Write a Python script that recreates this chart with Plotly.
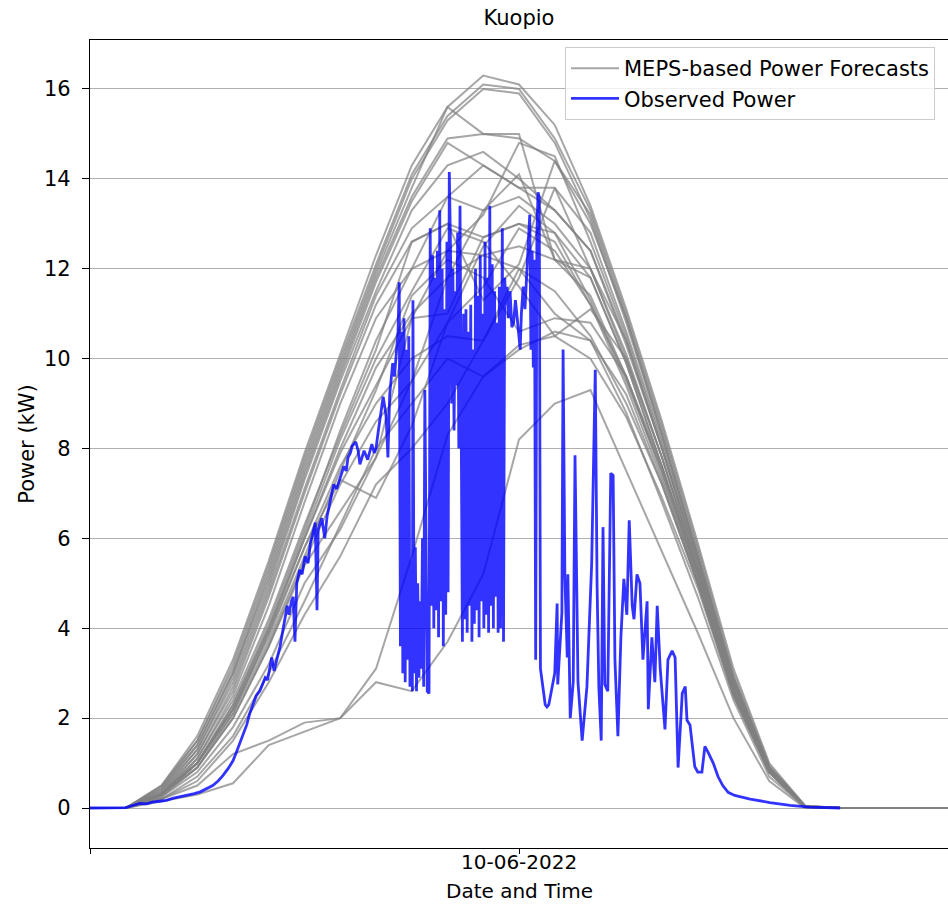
import plotly.graph_objects as go

# ---------------- data ----------------
hours = list(range(25))              # hourly forecast steps (0..24 h)
tick_hours = [0, 12]
tick_labels = ["", "10-06-2022"]
y_ticks = [0, 2, 4, 6, 8, 10, 12, 14, 16]

member_01 = [0, 0, 0.5, 1.6, 3.3, 5.5, 7.9, 10.1, 12.3, 14.3, 15.6, 16.3, 16.1, 15.2, 13.4, 11.1, 8.6, 5.9, 3.1, 1.0, 0.05, 0, 0, 0, 0]
member_02 = [0, 0, 0.5, 1.5, 3.2, 5.4, 7.8, 10.0, 12.1, 14.1, 15.4, 16.1, 16.0, 14.9, 13.3, 11.0, 8.5, 5.8, 3.0, 0.95, 0.05, 0, 0, 0, 0]
member_03 = [0, 0, 0.45, 1.5, 3.1, 5.3, 7.7, 9.9, 12.0, 14.0, 15.3, 16.0, 15.9, 14.8, 13.1, 10.8, 8.3, 5.6, 2.9, 0.9, 0.04, 0, 0, 0, 0]
member_04 = [0, 0, 0.45, 1.4, 3.0, 5.2, 7.6, 9.8, 11.9, 13.8, 15.6, 15.0, 15.0, 12.2, 12.0, 10.4, 8.0, 5.4, 2.8, 0.9, 0.04, 0, 0, 0, 0]
member_05 = [0, 0, 0.4, 1.4, 3.0, 5.1, 7.5, 9.7, 11.8, 13.6, 14.9, 15.0, 14.9, 14.4, 13.2, 10.9, 8.4, 5.7, 2.9, 0.9, 0.04, 0, 0, 0, 0]
member_06 = [0, 0, 0.4, 1.3, 2.9, 5.0, 7.4, 9.6, 11.7, 13.5, 14.8, 14.3, 13.8, 13.8, 12.8, 10.6, 8.2, 5.6, 2.9, 0.9, 0.04, 0, 0, 0, 0]
member_07 = [0, 0, 0.35, 1.3, 2.8, 4.9, 7.3, 9.5, 11.5, 13.3, 14.3, 14.6, 14.0, 13.3, 12.4, 10.3, 8.0, 5.5, 2.8, 0.85, 0.03, 0, 0, 0, 0]
member_08 = [0, 0, 0.35, 1.2, 2.7, 4.8, 7.1, 9.3, 11.4, 12.9, 13.6, 13.3, 13.6, 13.0, 12.0, 10.1, 7.8, 5.3, 2.7, 0.85, 0.03, 0, 0, 0, 0]
member_09 = [0, 0, 0.3, 1.2, 2.6, 4.7, 7.0, 9.2, 11.2, 12.6, 13.0, 12.7, 13.0, 12.8, 11.8, 9.9, 7.6, 5.2, 2.6, 0.8, 0.03, 0, 0, 0, 0]
member_10 = [0, 0, 0.3, 1.1, 2.5, 4.5, 6.8, 9.0, 10.9, 12.0, 12.4, 12.3, 12.5, 12.2, 11.4, 9.6, 7.4, 5.0, 2.5, 0.8, 0.03, 0, 0, 0, 0]
member_11 = [0, 0, 0.15, 0.3, 0.55, 1.4, 1.7, 2.0, 2.8, 2.6, 3.7, 5.2, 8.2, 9.0, 9.3, 7.5, 5.7, 3.9, 2.0, 0.6, 0, 0, 0, 0, 0]
member_12 = [0, 0, 0.2, 0.5, 1.2, 1.5, 1.9, 2.0, 3.1, 5.6, 8.3, 9.6, 10.2, 10.6, 10.4, 8.8, 6.8, 4.7, 2.4, 0.7, 0.02, 0, 0, 0, 0]
member_13 = [0, 0, 0.3, 1.0, 2.3, 4.0, 6.0, 8.0, 9.8, 11.0, 11.8, 12.3, 12.0, 11.5, 10.5, 9.0, 7.2, 5.0, 2.6, 0.8, 0.03, 0, 0, 0, 0]
member_14 = [0, 0, 0.3, 1.0, 2.2, 3.8, 5.8, 7.6, 9.0, 10.0, 10.5, 10.4, 11.8, 13.8, 12.0, 10.0, 7.8, 5.3, 2.7, 0.85, 0.03, 0, 0, 0, 0]
member_15 = [0, 0, 0.25, 0.9, 2.0, 3.6, 5.5, 7.2, 8.6, 9.5, 10.8, 12.5, 13.4, 12.8, 11.3, 9.5, 7.5, 5.1, 2.6, 0.8, 0.03, 0, 0, 0, 0]
member_16 = [0, 0, 0.3, 1.1, 2.4, 4.2, 6.3, 8.3, 10.2, 12.6, 13.0, 11.3, 12.1, 14.4, 13.0, 10.9, 8.3, 5.6, 2.8, 0.9, 0.03, 0, 0, 0, 0]
member_17 = [0, 0, 0.3, 0.9, 2.1, 3.9, 6.0, 7.9, 9.4, 10.9, 12.4, 13.2, 14.8, 14.5, 12.6, 10.5, 8.1, 5.5, 2.8, 0.9, 0.03, 0, 0, 0, 0]
member_18 = [0, 0, 0.2, 0.7, 1.6, 3.0, 4.6, 6.3, 8.0, 9.0, 10.0, 9.6, 10.3, 10.5, 10.0, 8.7, 6.9, 4.9, 2.5, 0.8, 0.03, 0, 0, 0, 0]
member_19 = [0, 0, 0.3, 1.0, 2.3, 4.1, 6.2, 8.4, 10.4, 12.0, 13.6, 14.3, 13.8, 13.3, 12.4, 10.4, 8.0, 5.4, 2.8, 0.9, 0.03, 0, 0, 0, 0]
member_20 = [0, 0, 0.3, 0.9, 2.0, 3.6, 5.4, 6.6, 7.8, 9.5, 11.8, 13.3, 14.1, 12.2, 11.8, 9.9, 7.6, 5.2, 2.6, 0.8, 0.03, 0, 0, 0, 0]
member_21 = [0, 0, 0.2, 0.6, 1.5, 2.8, 4.3, 5.6, 7.2, 8.0, 9.0, 10.4, 12.0, 11.0, 10.4, 9.2, 7.2, 5.0, 2.5, 0.8, 0.03, 0, 0, 0, 0]
member_22 = [0, 0, 0.3, 1.0, 2.2, 4.0, 6.1, 8.2, 10.0, 11.5, 12.9, 12.6, 11.6, 10.5, 11.1, 10.0, 7.8, 5.3, 2.7, 0.85, 0.03, 0, 0, 0, 0]
member_23 = [0, 0, 0.25, 0.8, 1.8, 3.2, 5.0, 6.2, 7.8, 10.9, 11.0, 12.7, 13.0, 12.6, 11.2, 9.4, 7.3, 5.0, 2.6, 0.8, 0.03, 0, 0, 0, 0]
member_24 = [0, 0, 0.3, 1.0, 2.1, 3.7, 5.6, 7.5, 9.3, 11.4, 12.2, 11.8, 10.6, 10.9, 10.8, 9.6, 7.5, 5.1, 2.6, 0.8, 0.03, 0, 0, 0, 0]
member_25 = [0, 0, 0.3, 1.0, 2.2, 3.9, 5.8, 7.3, 6.9, 8.5, 10.8, 11.6, 12.9, 12.4, 11.2, 9.6, 7.6, 5.2, 2.6, 0.8, 0.03, 0, 0, 0, 0]

forecast_members = [member_01, member_02, member_03, member_04, member_05, member_06, member_07,
                    member_08, member_09, member_10, member_11, member_12, member_13, member_14,
                    member_15, member_16, member_17, member_18, member_19, member_20, member_21,
                    member_22, member_23, member_24, member_25]

# observed power: minutes since start of the plotted window, kW
obs_minutes = [0, 30, 60, 70, 84, 95, 105, 117, 128, 140, 151, 162, 175, 185, 195, 206, 215, 223, 232, 240,
               246, 252, 258, 263, 268, 274, 279, 285, 290, 294, 298, 302, 305, 309, 314, 319, 323, 326, 331, 334,
               338, 341, 344, 347, 352, 356, 361, 366, 370, 373, 378, 381, 383, 389, 394, 398, 403, 409, 414, 420,
               426, 430, 433, 437, 440, 446, 450, 453, 457, 460, 466, 470, 473, 477, 480, 484, 487, 492, 495, 497,
               500, 503, 508, 511, 514, 517,
               519, 521, 523, 525, 527, 529, 531, 533, 535, 537, 539, 541, 542, 544, 546, 548, 550, 552, 554, 556,
               558, 560, 562, 564, 566, 569, 571, 573, 575, 577, 579, 581, 583, 585, 587, 589, 591, 593, 595, 597,
               599, 601, 603, 605, 607, 609, 611, 613, 615, 617, 619, 621, 623, 625, 627, 629, 631, 633, 635, 637,
               639, 641, 643, 645, 647, 649, 651, 653, 655, 657, 659, 661, 663, 665, 667, 669, 671, 673, 675, 677,
               679, 681, 683, 685, 687, 689, 692, 694, 696, 698, 700, 702, 705, 708, 711, 714, 717, 720, 722, 724,
               727, 730, 733, 736, 738, 740, 742, 744, 746, 748, 750, 752, 754, 756, 758, 761, 764, 767, 770,
               780, 784, 785, 792, 794, 797, 801, 802, 806, 811, 814, 817, 819, 826, 834, 842, 848, 851, 854, 858,
               861, 864, 869, 874, 878, 881, 886, 891, 896, 901, 905, 910, 913, 918, 923, 928, 935, 937, 943, 948,
               952, 957, 965, 970, 977, 982, 987, 994, 999, 1002, 1007, 1015, 1020, 1027, 1032, 1037, 1046, 1054,
               1062, 1071, 1082, 1108, 1141, 1175, 1208, 1259]
obs_kw = [0, 0, 0.01, 0.05, 0.1, 0.09, 0.13, 0.15, 0.17, 0.22, 0.25, 0.28, 0.32, 0.36, 0.42, 0.5, 0.6, 0.72, 0.88, 1.05,
          1.25, 1.45, 1.65, 1.85, 2.1, 2.3, 2.5, 2.6, 2.75, 2.9, 2.85, 3.1, 3.35, 3.05, 3.3, 3.6, 3.9, 4.1, 4.5, 4.3,
          4.6, 4.7, 3.7, 5.0, 5.3, 5.2, 5.6, 5.45, 5.9, 6.05, 6.35, 4.4, 6.2, 6.45, 6.0, 6.5, 6.85, 7.2, 7.1, 7.35,
          7.6, 7.5, 7.8, 7.9, 8.05, 8.15, 7.95, 7.65, 7.85, 7.95, 7.75, 7.95, 8.1, 7.9, 8.0, 8.4, 8.7, 9.15, 8.9, 8.7,
          7.8, 9.2, 9.9, 9.6, 10.1, 10.6,
          11.7, 3.6, 10.6, 3.0, 10.9, 2.8, 10.2, 3.3, 10.5, 2.7, 5.5, 2.6, 11.3, 3.0, 5.8, 2.6, 5.0, 2.9, 4.6, 3.1,
          6.0, 2.7, 9.3, 5.6, 2.6, 2.55, 12.9, 4.5, 12.3, 4.0, 11.8, 4.4, 12.4, 3.8, 13.3, 4.6, 12.0, 3.6, 11.1, 4.3,
          12.6, 4.8, 14.15, 12.5, 9.0, 12.0, 8.4, 11.5, 9.4, 12.8, 8.0, 13.4, 7.5, 3.7, 11.0, 4.2, 11.1, 3.9, 10.6, 4.5,
          11.2, 3.7, 10.2, 4.1, 12.0, 4.4, 11.4, 3.8, 12.3, 4.6, 11.0, 4.0, 12.6, 4.3, 11.8, 3.9, 13.4, 4.5, 12.1, 4.0,
          11.5, 4.7, 10.8, 3.9, 11.6, 4.0, 12.9, 3.7, 11.8, 11.2, 11.6, 10.9, 11.5, 10.7, 10.8, 11.3, 10.9, 10.5, 10.2, 11.0,
          11.6, 11.1, 12.0, 12.6, 13.2, 10.2, 12.4, 9.8, 12.2, 3.3, 12.8, 13.7, 13.6, 3.1, 2.9, 2.6, 2.3, 2.25, 2.3,
          3.0, 4.55, 2.75, 4.35, 10.2, 5.15, 3.35, 5.2, 2.0, 2.8, 7.85, 3.8, 2.8, 1.5, 2.7, 5.45, 9.75, 5.0, 2.7, 1.5,
          6.25, 2.75, 2.6, 7.45, 7.4, 3.3, 1.6, 3.8, 5.1, 4.3, 6.4, 4.5, 4.2, 5.2, 5.0, 3.3, 4.6, 2.2, 3.8, 2.8,
          4.5, 3.1, 1.75, 3.3, 3.5, 3.35, 0.9, 2.55, 2.7, 1.95, 1.85, 0.92, 0.8, 0.8, 1.37, 1.25, 1.0, 0.7,
          0.5, 0.35, 0.28, 0.2, 0.12, 0.06, 0.02, 0.0]

# ---------------- figure ----------------
FONT = "DejaVu Sans"
GRAY = "rgba(128,128,128,0.7)"
BLUE = "rgba(0,0,255,0.8)"
FS = 21

fig = go.Figure()
for i, member in enumerate(forecast_members):
    fig.add_trace(go.Scatter(
        x=hours, y=member, mode="lines",
        line=dict(color=GRAY, width=2),
        name="MEPS-based Power Forecasts",
        legendgroup="fc", showlegend=(i == 0), hoverinfo="skip"))

fig.add_trace(go.Scatter(
    x=[m / 60 for m in obs_minutes], y=obs_kw, mode="lines",
    line=dict(color=BLUE, width=2.8),
    name="Observed Power", legendgroup="obs", showlegend=True))

# x tick labels and x title placed as text just below the axis
x_texts = [dict(text=lab, xref="x", yref="paper", x=tv, y=-(862 - 848) / 808,
                xanchor="center", yanchor="middle", borderpad=0, showarrow=False,
                font=dict(family=FONT, size=20, color="black"))
           for tv, lab in zip(tick_hours, tick_labels) if lab]
x_texts.append(dict(text="Date and Time", xref="paper", yref="paper", x=0.5,
                    y=-(891 - 848) / 808, xanchor="center", yanchor="middle", borderpad=0,
                    showarrow=False, font=dict(family=FONT, size=20, color="black")))

fig.update_layout(
    width=948, height=904,
    margin=dict(l=90, r=0, t=40, b=56),
    paper_bgcolor="white", plot_bgcolor="white",
    font=dict(family=FONT, size=FS, color="black"),
    title=dict(text="Kuopio", x=0.5, xref="paper", y=1 - 18 / 904, yref="container",
               xanchor="center", yanchor="middle", font=dict(family=FONT, size=FS, color="black")),
    showlegend=True,
    legend=dict(x=(565 - 90) / 858, xanchor="left", y=1 - 7 / 808, yanchor="top",
                bgcolor="rgba(255,255,255,0.8)", bordercolor="#cccccc", borderwidth=1,
                font=dict(family=FONT, size=FS, color="black"), itemwidth=48,
                tracegroupgap=0, traceorder="grouped"),
    xaxis=dict(range=[0, 24], tickmode="array", tickvals=tick_hours, showticklabels=False,
               showgrid=False, zeroline=False, showline=True, linecolor="black", linewidth=1.2,
               mirror=True, ticks="outside", ticklen=5, tickcolor="black", automargin=False),
    yaxis=dict(range=[-0.89, 17.09], tickmode="array", tickvals=y_ticks,
               showgrid=True, gridcolor="#b0b0b0", gridwidth=1, zeroline=False,
               showline=True, linecolor="black", linewidth=1.2, mirror=False, automargin=False,
               ticks="outside", ticklen=7, tickcolor="black", ticklabelstandoff=7,
               tickfont=dict(family=FONT, size=FS),
               title=dict(text="Power (kW)", standoff=3, font=dict(family=FONT, size=FS))),
    annotations=x_texts,
)

fig.write_html("out.html")
